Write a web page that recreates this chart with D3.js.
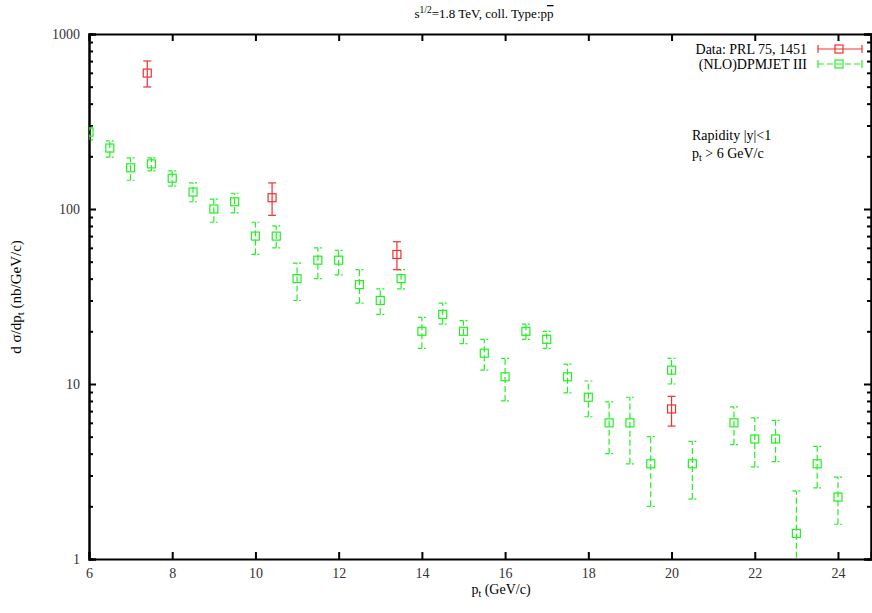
<!DOCTYPE html>
<html>
<head>
<meta charset="utf-8">
<script src="https://cdn.jsdelivr.net/npm/d3@7"></script>
<style>
  body { margin: 0; background: #fff; }
  text { font-family: "Liberation Serif", "DejaVu Serif", serif; }
</style>
</head>
<body>
<div id="chart"></div>
<script>
// DPMJET III (NLO) points: pt, value, lower and upper error
const mcPt   = [6, 6.5, 7, 7.5, 8, 8.5, 9, 9.5, 10, 10.5, 11, 11.5, 12, 12.5, 13, 13.5, 14, 14.5, 15, 15.5, 16, 16.5, 17, 17.5, 18, 18.5, 19, 19.5, 20, 20.5, 21.5, 22, 22.5, 23, 23.5, 24];
const mcVal  = [275, 223, 172, 181, 150, 125, 100, 110, 70, 70, 40, 51, 51, 37, 30, 40, 20, 25, 20, 15, 11, 20, 18, 11, 8.4, 6.0, 6.0, 3.5, 12, 3.5, 6.0, 4.85, 4.85, 1.4, 3.5, 2.26];
const mcLow  = [248, 198, 146, 165, 135, 110, 84, 95, 55, 60, 30, 40, 42, 29, 25, 35, 16, 22, 17, 12, 8, 18, 16, 8.9, 6.5, 4.0, 3.5, 2.0, 10, 2.2, 4.5, 3.36, 3.6, 0.5, 2.55, 1.58];
const mcHigh = [294, 245, 196, 196, 165, 141, 114, 123, 84, 80, 49, 60, 58, 45, 35, 45, 24, 29, 23, 18, 14, 22, 20, 13, 10.4, 7.9, 8.4, 5.0, 14, 4.7, 7.4, 6.4, 6.2, 2.45, 4.4, 2.94];

// Data: PRL 75, 1451
const dataPt   = [7.4, 10.4, 13.4, 20];
const dataVal  = [598, 116, 55, 7.2];
const dataLow  = [498, 92, 45, 5.75];
const dataHigh = [701, 141, 65, 8.5];

const xTicks = [6, 8, 10, 12, 14, 16, 18, 20, 22, 24];
const yTicks = [1, 10, 100, 1000];

const width = 872, height = 613;
const plotLeft = 89, plotRight = 871, plotTop = 34, plotBottom = 559;

const svg = d3.select("#chart").append("svg")
  .attr("width", width)
  .attr("height", height);

// Scales
const x = d3.scaleLinear()
  .domain([6, 6 + (plotRight - plotLeft) / 41.61])
  .range([plotLeft, plotRight]);
const y = d3.scaleLog()
  .domain([1, 1000])
  .range([plotBottom, plotTop]);

// minor ticks for the log axis
const minorTicks = [];
for (let d = 1; d < 1000; d *= 10) {
  for (let k = 2; k <= 9; k++) minorTicks.push(d * k);
}

function styleAxis(g) {
  g.select(".domain").attr("stroke", "#000").attr("stroke-width", 2);
  g.selectAll(".tick line").attr("stroke", "#000").attr("stroke-width", 2);
  g.selectAll(".tick text")
    .attr("fill", "#333")
    .style("font-size", "14px")
    .style("font-family", "'Liberation Serif', serif");
}

// Bottom axis
svg.append("g")
  .attr("transform", "translate(0," + plotBottom + ")")
  .call(d3.axisBottom(x).tickValues(xTicks).tickSize(-7).tickPadding(9).tickFormat(d3.format("d")))
  .call(styleAxis);

// Top axis (ticks only)
svg.append("g")
  .attr("transform", "translate(0," + plotTop + ")")
  .call(d3.axisTop(x).tickValues(xTicks).tickSize(-7).tickFormat(""))
  .call(styleAxis);

// Left axis
svg.append("g")
  .attr("transform", "translate(" + plotLeft + ",0)")
  .call(d3.axisLeft(y).tickValues(yTicks).tickSize(-7).tickPadding(9).tickFormat(d3.format("d")))
  .call(styleAxis);
svg.append("g")
  .attr("transform", "translate(" + plotLeft + ",0)")
  .call(d3.axisLeft(y).tickValues(minorTicks).tickSize(-4).tickFormat(""))
  .call(styleAxis);

// Right axis (ticks only)
svg.append("g")
  .attr("transform", "translate(" + plotRight + ",0)")
  .call(d3.axisRight(y).tickValues(yTicks).tickSize(-7).tickFormat(""))
  .call(styleAxis);
svg.append("g")
  .attr("transform", "translate(" + plotRight + ",0)")
  .call(d3.axisRight(y).tickValues(minorTicks).tickSize(-4).tickFormat(""))
  .call(styleAxis);

// Clip to plot area
svg.append("clipPath").attr("id", "plot-clip")
  .append("rect")
  .attr("x", plotLeft).attr("y", plotTop)
  .attr("width", plotRight - plotLeft).attr("height", plotBottom - plotTop);

const plot = svg.append("g").attr("clip-path", "url(#plot-clip)");

const cap = 4, half = 4;

function drawSeries(pts, vals, lows, highs, color, dash) {
  const g = plot.append("g");
  const idx = d3.range(pts.length);

  g.selectAll("line.bar").data(idx).enter().append("line")
    .attr("x1", i => x(pts[i])).attr("x2", i => x(pts[i]))
    .attr("y1", i => y(lows[i])).attr("y2", i => y(highs[i]))
    .attr("stroke", color).attr("stroke-width", 1.2)
    .attr("stroke-dasharray", dash);

  [lows, highs].forEach(arr => {
    g.selectAll(null).data(idx).enter().append("line")
      .attr("x1", i => x(pts[i]) - cap).attr("x2", i => x(pts[i]) + cap)
      .attr("y1", i => y(arr[i])).attr("y2", i => y(arr[i]))
      .attr("stroke", color).attr("stroke-width", 1.2)
      .attr("stroke-dasharray", dash ? "4,2" : null);
  });

  g.selectAll("rect").data(idx).enter().append("rect")
    .attr("x", i => x(pts[i]) - half).attr("y", i => y(vals[i]) - half)
    .attr("width", half * 2).attr("height", half * 2)
    .attr("fill", "none")
    .attr("stroke", color).attr("stroke-width", 1.2);
}

drawSeries(mcPt, mcVal, mcLow, mcHigh, "#22f022", "6,3");
drawSeries(dataPt, dataVal, dataLow, dataHigh, "#f03030", null);

// Legend
const legend = [
  { label: "Data: PRL 75, 1451", color: "#f03030", dash: null, y: 49 },
  { label: "(NLO)DPMJET III", color: "#22f022", dash: "6,3", y: 64 }
];
legend.forEach(l => {
  svg.append("text")
    .attr("x", 807).attr("y", l.y + 5)
    .attr("text-anchor", "end")
    .style("font-size", "14px")
    .text(l.label);
  svg.append("line")
    .attr("x1", 818).attr("x2", 862).attr("y1", l.y).attr("y2", l.y)
    .attr("stroke", l.color).attr("stroke-width", 1.2)
    .attr("stroke-dasharray", l.dash);
  [818, 862].forEach(px => {
    svg.append("line")
      .attr("x1", px).attr("x2", px).attr("y1", l.y - 4).attr("y2", l.y + 4)
      .attr("stroke", l.color).attr("stroke-width", 1.2);
  });
  svg.append("rect")
    .attr("x", 835).attr("y", l.y - 4).attr("width", 8).attr("height", 8)
    .attr("fill", "none").attr("stroke", l.color).attr("stroke-width", 1.2);
});

// Annotations
svg.append("text")
  .attr("x", 692).attr("y", 140)
  .style("font-size", "14px")
  .text("Rapidity |y|<1");
const pt = svg.append("text")
  .attr("x", 692).attr("y", 158)
  .style("font-size", "14px");
pt.append("tspan").text("p");
pt.append("tspan").attr("dy", 3).style("font-size", "10px").text("t");
pt.append("tspan").attr("dy", -3).text(" > 6 GeV/c");

// Title
const title = svg.append("text")
  .attr("x", 484).attr("y", 18)
  .attr("text-anchor", "middle")
  .style("font-size", "13px");
title.append("tspan").text("s");
title.append("tspan").attr("dy", -5).style("font-size", "9.5px").text("1/2");
title.append("tspan").attr("dy", 5).text("=1.8 TeV, coll. Type:p");
title.append("tspan").style("text-decoration", "overline").text("p");

// Axis titles
const xl = svg.append("text")
  .attr("x", 501).attr("y", 594)
  .attr("text-anchor", "middle")
  .style("font-size", "14px");
xl.append("tspan").text("p");
xl.append("tspan").attr("dy", 3).style("font-size", "10px").text("t");
xl.append("tspan").attr("dy", -3).text(" (GeV/c)");

const yl = svg.append("text")
  .attr("transform", "translate(21,297) rotate(-90)")
  .attr("text-anchor", "middle")
  .style("font-size", "15px");
yl.append("tspan").text("d σ/dp");
yl.append("tspan").attr("dy", 3).style("font-size", "11px").text("t");
yl.append("tspan").attr("dy", -3).text(" (nb/GeV/c)");
</script>
</body>
</html>
